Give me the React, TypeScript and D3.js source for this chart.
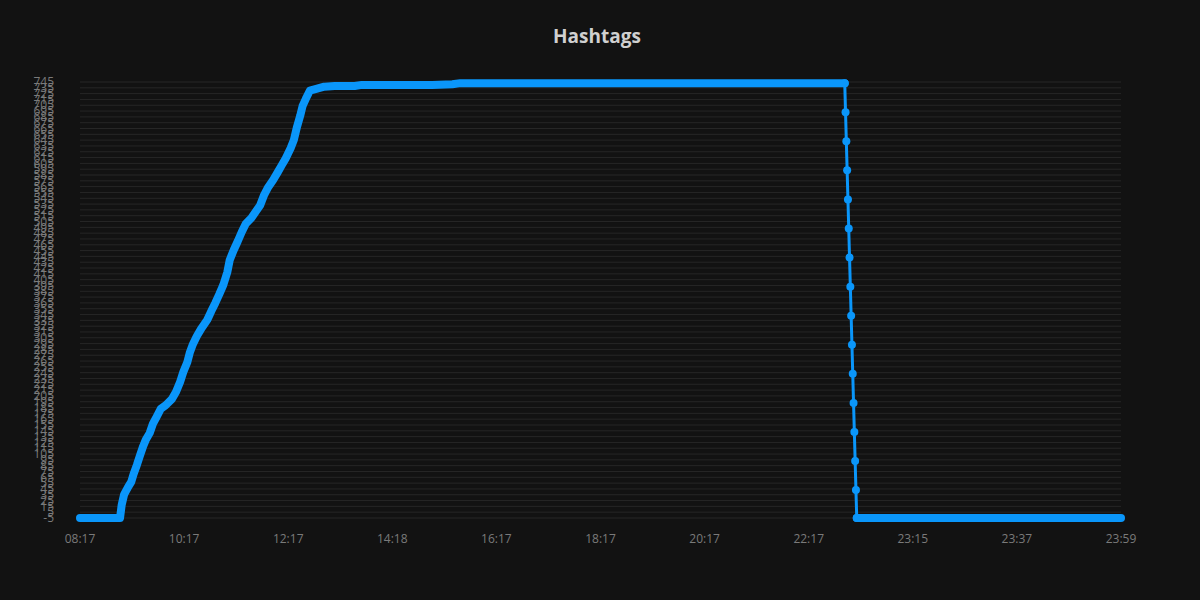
import React from "react";
import * as d3 from "d3";

// x: sample index of the category axis (≈1300 samples), y: hashtag count
const TOTAL_SAMPLES = 1300;
const xLabels = ["08:17", "10:17", "12:17", "14:18", "16:17", "18:17", "20:17", "22:17", "23:15", "23:37", "23:59"];
const yTicks = d3.range(-5, 746, 10);

// dense part of the series (markers overlap into a band): key readings
const riseIndex = [0, 50, 52, 55, 60, 64, 67, 71, 75, 79, 82, 87, 91, 96, 101, 107, 115, 120, 125, 129, 134, 137, 141, 146, 152, 159, 164, 169, 174, 179, 184, 187, 192, 197, 202, 207, 214, 220, 225, 230, 235, 241, 247, 252, 257, 263, 267, 271, 275, 278, 282, 287, 295, 305, 318, 343, 352, 440, 465, 475, 955];
const riseValue = [-5, -5, 17, 35, 48, 57, 71, 86, 103, 119, 129, 141, 157, 170, 183, 189, 200, 212, 229, 246, 263, 279, 294, 308, 322, 336, 351, 365, 380, 396, 418, 439, 456, 471, 487, 501, 511, 523, 533, 551, 564, 576, 590, 602, 614, 631, 645, 668, 687, 704, 716, 730, 733, 737, 738, 738, 740, 740, 741, 743, 743];

// sparse part: the drop, one sample per index starting at dropStart
const dropStart = 955;
const dropValue = [743, 693, 643, 593, 543, 493, 443, 393, 343, 293, 243, 193, 143, 93, 43, -5];

// tail: flat after the drop
const tailIndex = [970, 1300];
const tailValue = [-5, -5];

const W = 1200;
const H = 600;
const M = { left: 80, right: 79, top: 82, bottom: 82 };
const LINE = "#0a96fa";

export default function App() {
  const x = d3.scaleLinear().domain([0, TOTAL_SAMPLES]).range([M.left, W - M.right]);
  const y = d3.scaleLinear().domain([-5, 745]).range([H - M.bottom, M.top]);

  const line = d3
    .line<[number, number]>()
    .x((d) => x(d[0]))
    .y((d) => y(d[1]));

  const rise: [number, number][] = riseIndex.map((i, k) => [i, riseValue[k]]);
  const drop: [number, number][] = dropValue.map((v, k) => [dropStart + k, v]);
  const tail: [number, number][] = tailIndex.map((i, k) => [i, tailValue[k]]);

  const font = "'Open Sans', 'Noto Sans', sans-serif";

  return (
    <svg
      width={W}
      height={H}
      style={{ position: "absolute", left: 0, top: 0, display: "block" }}
      fontFamily={font}
    >
      <rect x={0} y={0} width={W} height={H} fill="#121212" />
      <text x={597} y={43} textAnchor="middle" fill="#d0d0d0" fontSize={19} fontWeight="bold">
        Hashtags
      </text>
      {yTicks.map((t) => (
        <g key={t}>
          <line x1={M.left} x2={W - M.right} y1={y(t)} y2={y(t)} stroke="#262626" strokeWidth={1} />
          <text x={54} y={y(t)} dy="0.35em" textAnchor="end" fill="#7a7a7a" fontSize={12}>
            {t}
          </text>
        </g>
      ))}
      {xLabels.map((l, k) => (
        <text
          key={l}
          x={x((k * TOTAL_SAMPLES) / (xLabels.length - 1))}
          y={543}
          textAnchor="middle"
          fill="#7a7a7a"
          fontSize={12}
        >
          {l}
        </text>
      ))}
      <path d={line(drop) || ""} fill="none" stroke={LINE} strokeWidth={3} />
      {drop.map((d, k) => (
        <circle key={k} cx={x(d[0])} cy={y(d[1])} r={4} fill={LINE} />
      ))}
      <path d={line(rise) || ""} fill="none" stroke={LINE} strokeWidth={8} strokeLinecap="round" strokeLinejoin="round" />
      <path d={line(tail) || ""} fill="none" stroke={LINE} strokeWidth={8} strokeLinecap="round" strokeLinejoin="round" />
    </svg>
  );
}
